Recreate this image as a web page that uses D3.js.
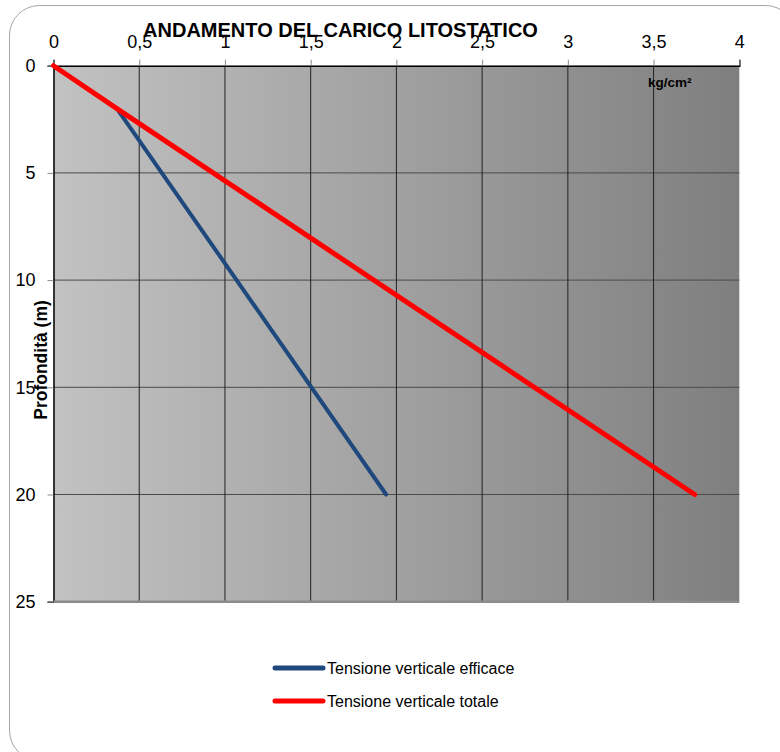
<!DOCTYPE html>
<html>
<head>
<meta charset="utf-8">
<script src="https://cdn.jsdelivr.net/npm/d3@7"></script>
<style>
  body { margin: 0; background: #fff; }
  svg { display: block; font-family: "Liberation Sans", Arial, sans-serif; }
</style>
</head>
<body>
<div id="chart"></div>
<script>
const chartTitle = "ANDAMENTO DEL CARICO LITOSTATICO";
const xTicks = [0, 0.5, 1, 1.5, 2, 2.5, 3, 3.5, 4];
const yTicks = [0, 5, 10, 15, 20, 25];

// depth (m) vs stress (kg/cm2)
const efficaceDepth = [2, 20];
const efficaceStress = [0.37, 1.94];
const totaleDepth = [0, 2, 20];
const totaleStress = [0, 0.37, 3.74];

const seriesNames = ["Tensione verticale efficace", "Tensione verticale totale"];
const seriesColors = ["#1f497d", "#ff0000"];

const width = 780, height = 752;
const margin = { top: 65.7, right: 40.7, bottom: 150.3, left: 53.5 };
const innerWidth = width - margin.left - margin.right;
const innerHeight = height - margin.top - margin.bottom;

const svg = d3.select("#chart").append("svg")
  .attr("width", width)
  .attr("height", height);

// outer frame
svg.append("rect")
  .attr("x", 9.5).attr("y", 5.5)
  .attr("width", 786).attr("height", 755)
  .attr("rx", 30).attr("ry", 30)
  .attr("fill", "#fff")
  .attr("stroke", "#a6a6a6")
  .attr("stroke-width", 1);

const grad = svg.append("defs").append("linearGradient")
  .attr("id", "bg").attr("x1", "0%").attr("x2", "100%").attr("y1", "0%").attr("y2", "0%");
grad.append("stop").attr("offset", "0%").attr("stop-color", "#c2c2c2");
grad.append("stop").attr("offset", "100%").attr("stop-color", "#7f7f7f");

const g = svg.append("g").attr("transform", `translate(${margin.left},${margin.top})`);

const x = d3.scaleLinear().domain([0, 4]).range([0, innerWidth]);
const y = d3.scaleLinear().domain([0, 25]).range([0, innerHeight]);

g.append("rect")
  .attr("width", innerWidth).attr("height", innerHeight)
  .attr("fill", "url(#bg)");

// gridlines
g.append("g").selectAll("line").data(yTicks.slice(1, -1)).join("line")
  .attr("x1", 0).attr("x2", innerWidth)
  .attr("y1", d => y(d)).attr("y2", d => y(d))
  .attr("stroke", "#4a4a4a").attr("stroke-width", 1);

g.append("g").selectAll("line").data(xTicks.slice(1, -1)).join("line")
  .attr("x1", d => x(d)).attr("x2", d => x(d))
  .attr("y1", 0).attr("y2", innerHeight)
  .attr("stroke", "#222").attr("stroke-width", 1);

// axes
const fmt = d => String(d).replace(".", ",");

const xAxis = g.append("g")
  .call(d3.axisTop(x).tickValues(xTicks).tickFormat(fmt).tickSize(6).tickPadding(12));
xAxis.select(".domain").attr("stroke", "#000").attr("stroke-width", 1.5);
xAxis.selectAll(".tick line").attr("stroke", "#8c8c8c");
xAxis.selectAll(".tick text").attr("font-size", 18).attr("fill", "#000");

const yAxis = g.append("g")
  .call(d3.axisLeft(y).tickValues(yTicks).tickSize(6).tickPadding(12));
yAxis.select(".domain").attr("stroke", "#000").attr("stroke-width", 1.5);
yAxis.selectAll(".tick line").attr("stroke", "#8c8c8c");
yAxis.selectAll(".tick text").attr("font-size", 18).attr("fill", "#000");

g.append("line")
  .attr("x1", 0).attr("x2", innerWidth)
  .attr("y1", innerHeight).attr("y2", innerHeight)
  .attr("stroke", "#8c8c8c").attr("stroke-width", 2.5);

// series lines
const line = d3.line().x(d => x(d[0])).y(d => y(d[1]));
const series = [
  d3.zip(efficaceStress, efficaceDepth),
  d3.zip(totaleStress, totaleDepth)
];
const widths = [4, 5];

g.append("g").selectAll("path").data(series).join("path")
  .attr("d", line)
  .attr("fill", "none")
  .attr("stroke", (d, i) => seriesColors[i])
  .attr("stroke-width", (d, i) => widths[i])
  .attr("stroke-linecap", "round")
  .attr("stroke-linejoin", "round");

// titles
svg.append("text")
  .attr("x", 340.5).attr("y", 37)
  .attr("text-anchor", "middle")
  .attr("font-size", 20).attr("font-weight", "bold")
  .text(chartTitle);

svg.append("text")
  .attr("transform", "translate(47,360) rotate(-90)")
  .attr("text-anchor", "middle")
  .attr("font-size", 17.5).attr("font-weight", "bold")
  .text("Profondità (m)");

svg.append("text")
  .attr("x", 648).attr("y", 87)
  .attr("font-size", 13.5).attr("font-weight", "bold")
  .text("kg/cm²");

// legend
const legend = svg.append("g").attr("transform", "translate(275,668)");
const item = legend.selectAll("g").data(seriesNames).join("g")
  .attr("transform", (d, i) => `translate(0,${i * 33})`);
item.append("line")
  .attr("x1", 0).attr("x2", 48)
  .attr("stroke", (d, i) => seriesColors[i])
  .attr("stroke-width", 5)
  .attr("stroke-linecap", "round");
item.append("text")
  .attr("x", 52).attr("dy", "0.35em")
  .attr("font-size", 16)
  .text(d => d);
</script>
</body>
</html>
